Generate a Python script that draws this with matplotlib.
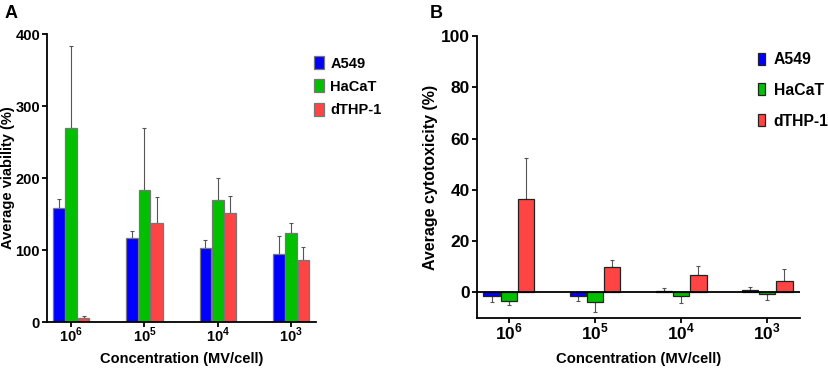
import matplotlib
matplotlib.use("Agg")
import matplotlib.pyplot as plt
import numpy as np

plt.rcParams["font.family"] = ["Liberation Sans", "DejaVu Sans"]
plt.rcParams["font.weight"] = "bold"
plt.rcParams["mathtext.fontset"] = "custom"
plt.rcParams["mathtext.rm"] = "Liberation Sans"
plt.rcParams["mathtext.bf"] = "Liberation Sans:bold"

concentrations = [r"$\mathbf{10}^{6}$", r"$\mathbf{10}^{5}$", r"$\mathbf{10}^{4}$", r"$\mathbf{10}^{3}$"]
cell_lines = ["A549", "HaCaT", "dTHP-1"]
colors = ["#0000FF", "#00C000", "#FF4444"]

# panel A: viability (%), mean and upper error
viab_a549 = [159, 116, 103, 95]
viab_a549_err = [12, 11, 11, 24]
viab_hacat = [270, 184, 169, 123]
viab_hacat_err = [113, 85, 31, 14]
viab_dthp = [5.5, 138, 152, 86]
viab_dthp_err = [2.4, 36, 23, 18]

# panel B: cytotoxicity (%), mean and error (away from zero)
cyto_a549 = [-1.4, -1.4, 0.5, 0.8]
cyto_a549_err = [2.2, 2.0, 1.1, 1.1]
cyto_hacat = [-3.4, -3.8, -1.3, -0.6]
cyto_hacat_err = [1.5, 3.7, 2.8, 2.5]
cyto_dthp = [36.5, 9.8, 6.9, 4.3]
cyto_dthp_err = [16.1, 3.0, 3.2, 4.9]

W, H = 829, 370
fig = plt.figure(figsize=(W / 100, H / 100), dpi=100)


def px_axes(left, top, right, bottom):
    return fig.add_axes([left / W, 1 - bottom / H, (right - left) / W, (bottom - top) / H])


def draw_bars(ax, series, errs, width, step, edge, elw):
    x = np.arange(len(concentrations))
    handles = []
    for i, (vals, err, c, name) in enumerate(zip(series, errs, colors, cell_lines)):
        vals = np.array(vals, dtype=float)
        err = np.array(err, dtype=float)
        lower = np.where(vals < 0, err, 0)
        upper = np.where(vals >= 0, err, 0)
        b = ax.bar(x + (i - 1) * step, vals, width, color=c, edgecolor=edge,
                   linewidth=0.9, label=name, zorder=2)
        ax.errorbar(x + (i - 1) * step, vals, yerr=[lower, upper], fmt="none",
                    ecolor="#555555", elinewidth=elw, capsize=1.5, capthick=elw, zorder=1)
        handles.append(b)
    ax.set_xticks(x)
    ax.set_xticklabels(concentrations)
    for s in ("top", "right"):
        ax.spines[s].set_visible(False)
    for s in ("left", "bottom"):
        ax.spines[s].set_linewidth(1.3)
    ax.tick_params(width=1.3, length=3.5, pad=1.5)
    ax.tick_params(axis="x", pad=-0.5)
    return handles


# ---- panel A
axA = px_axes(47, 34, 316, 322)
hA = draw_bars(axA, [viab_a549, viab_hacat, viab_dthp],
               [viab_a549_err, viab_hacat_err, viab_dthp_err],
               0.16, 0.168, "#777777", 0.8)
axA.set_xlim(-0.33, 3.34)
axA.set_ylim(0, 400)
axA.set_yticks([0, 100, 200, 300, 400])
axA.tick_params(axis="both", labelsize=10.5)
axA.set_ylabel("Average viability (%)", fontsize=10.5, fontweight="bold", labelpad=0.5)
axA.set_xlabel("Concentration (MV/cell)", fontsize=10.5, fontweight="bold", labelpad=5)
for t in axA.get_yticklabels():
    t.set_fontweight("bold")
fig.legend(handles=hA, loc="upper left", bbox_to_anchor=(301 / W, 1 - 43 / H),
           frameon=False, handlelength=0.7, handleheight=1.0,
           handletextpad=0.4, labelspacing=0.6, prop={"weight": "bold", "size": 10.5})
fig.text(5 / W, 1 - 5 / H, "A", fontsize=13, fontweight="bold", va="top", ha="left")

# ---- panel B
axB = px_axes(477, 36, 800, 318)
hB = draw_bars(axB, [cyto_a549, cyto_hacat, cyto_dthp],
               [cyto_a549_err, cyto_hacat_err, cyto_dthp_err],
               0.19, 0.2, "#222222", 0.8)
axB.set_xlim(-0.37, 3.38)
axB.set_ylim(-10, 100)
axB.set_yticks([0, 20, 40, 60, 80, 100])
axB.axhline(0, color="black", linewidth=1.3, zorder=3)
axB.tick_params(axis="both", labelsize=12.5)
axB.set_ylabel("Average cytotoxicity (%)", fontsize=11.5, fontweight="bold", labelpad=2)
axB.set_xlabel("Concentration (MV/cell)", fontsize=10.7, fontweight="bold", labelpad=7)
for t in axB.get_yticklabels():
    t.set_fontweight("bold")
fig.legend(handles=hB, loc="upper left", bbox_to_anchor=(744 / W, 1 - 38 / H),
           frameon=False, handlelength=0.45, handleheight=0.8,
           handletextpad=0.55, labelspacing=1.0, prop={"weight": "bold", "size": 11.3})
fig.text(430 / W, 1 - 5 / H, "B", fontsize=13, fontweight="bold", va="top", ha="left")

fig.savefig("out.png", dpi=100)
